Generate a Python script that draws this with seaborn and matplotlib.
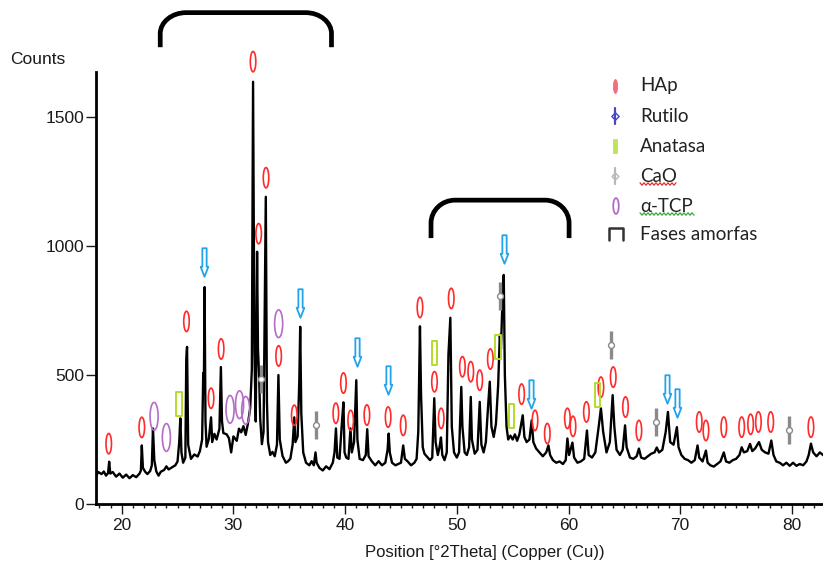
import numpy as np
import matplotlib
matplotlib.use("Agg")
import matplotlib.pyplot as plt
import seaborn as sns
from matplotlib.path import Path
from matplotlib.patches import PathPatch
from matplotlib.ticker import MultipleLocator

# ---------------- data: diffractogram trace (2theta, counts) ----------------
two_theta = [
    17.75, 17.9, 18.2, 18.4, 18.6, 18.78, 18.88, 18.98, 19.2, 19.5,
    19.8, 20.1, 20.4, 20.7, 21.0, 21.3, 21.6, 21.72, 21.8, 21.9,
    22.1, 22.3, 22.55, 22.7, 22.8, 22.92, 23.1, 23.3, 23.5, 23.8,
    24.0, 24.2, 24.5, 24.8, 25.0,
    25.15, 25.25, 25.35, 25.5, 25.7, 25.78, 25.85, 25.95, 26.2, 26.5,
    26.8, 27.0, 27.2, 27.3, 27.36, 27.42, 27.5, 27.6, 27.8, 28.0,
    28.1, 28.3, 28.5, 28.75, 28.88, 28.98, 29.1, 29.4, 29.6, 29.8,
    30.0, 30.3, 30.5, 30.7, 30.9, 31.1, 31.3, 31.5,
    31.65, 31.76, 31.88, 32.0, 32.12, 32.2, 32.3, 32.4, 32.55, 32.7,
    32.9, 33.0, 33.1, 33.3, 33.5, 33.7, 33.9, 34.03, 34.15, 34.4,
    34.7, 34.9, 35.1, 35.3, 35.45, 35.55, 35.75, 35.9, 35.98, 36.08,
    36.25, 36.5,
    36.8, 37.0, 37.2, 37.35, 37.45, 37.7, 38.0, 38.3, 38.6, 38.9,
    39.05, 39.18, 39.3, 39.5, 39.72, 39.85, 39.95, 40.1, 40.3, 40.48,
    40.6, 40.8, 41.0, 41.1, 41.3, 41.6, 41.85, 41.98, 42.1, 42.4,
    42.7, 43.0, 43.3, 43.6, 43.8, 43.9, 44.0, 44.2, 44.5, 44.8,
    45.0, 45.2, 45.35, 45.6, 45.9,
    46.2, 46.4, 46.55, 46.7, 46.8, 46.95, 47.1, 47.3, 47.6, 47.8,
    47.98, 48.1, 48.3, 48.45, 48.58, 48.7, 48.9, 49.1, 49.25, 49.42,
    49.55, 49.75, 50.0, 50.2, 50.4, 50.5, 50.7, 50.9, 51.1, 51.25,
    51.35, 51.6, 51.85, 52.05, 52.2, 52.4, 52.6, 52.8, 52.95, 53.1,
    53.3, 53.5, 53.7, 53.85, 53.95, 54.05, 54.2, 54.3, 54.45, 54.6,
    54.8, 55.0, 55.2, 55.4, 55.6, 55.9, 56.05, 56.25, 56.5, 56.7,
    56.85, 57.1, 57.4, 57.7,
    58.0, 58.2, 58.35, 58.6, 58.9, 59.2, 59.5, 59.75, 59.9, 60.05,
    60.35, 60.5, 60.8, 61.1, 61.4, 61.65, 61.8, 62.1, 62.4, 62.7,
    62.9, 63.1, 63.4, 63.7, 63.95, 64.1, 64.3, 64.6, 64.85, 65.06,
    65.2, 65.5, 65.8, 66.1, 66.3, 66.5, 66.8, 67.1, 67.4, 67.7,
    67.9, 68.1, 68.4, 68.7, 68.9, 69.1, 69.4, 69.7, 69.85, 70.1,
    70.4, 70.7, 71.0, 71.3, 71.55, 71.7, 72.0, 72.3, 72.45, 72.7,
    73.0, 73.3, 73.6, 73.9, 74.1, 74.4, 74.7, 75.0, 75.3, 75.5,
    75.7, 76.0, 76.25, 76.45, 76.7, 77.05, 77.3, 77.6, 77.9, 78.15,
    78.35, 78.6, 78.9, 79.2, 79.5, 79.8, 80.1, 80.4, 80.7, 81.0,
    81.3, 81.5, 81.7, 81.9, 82.2, 82.5, 82.78,
]
counts = [
    112, 124, 116, 126, 110, 120, 164, 118, 124, 106,
    118, 102, 114, 100, 112, 104, 118, 130, 227, 140,
    125, 116, 128, 150, 293, 170, 126, 110, 125, 132,
    146, 134, 142, 150, 165,
    240, 332, 200, 160, 180, 560, 609, 230, 175, 192,
    184, 205, 250, 508, 470, 841, 320, 222, 252, 336,
    240, 272, 250, 292, 531, 320, 275, 270, 255, 200,
    262, 245, 292, 278, 302, 268, 312, 370,
    520, 1637, 600, 320, 978, 600, 500, 330, 232, 280,
    1191, 400, 240, 190, 202, 185, 230, 500, 250, 186,
    160, 166, 176, 230, 336, 240, 262, 480, 687, 350,
    200, 160,
    150, 166, 150, 200, 160, 140, 130, 146, 135, 160,
    200, 293, 180, 175, 320, 394, 200, 180, 175, 293,
    200, 240, 480, 250, 175, 170, 190, 290, 185, 165,
    150, 166, 150, 160, 210, 273, 200, 160, 150, 156,
    160, 227, 175, 165, 150,
    160, 175, 280, 689, 420, 220, 195, 185, 170, 180,
    410, 240, 190, 220, 258, 190, 170, 200, 580, 722,
    300, 200, 180, 200, 454, 300, 200, 190, 220, 415,
    250, 195, 210, 396, 230, 200, 240, 380, 474, 300,
    260, 310, 460, 656, 600, 740, 888, 500, 300, 250,
    265, 250, 270, 245, 270, 344, 260, 240, 250, 324,
    240, 215, 200, 185,
    200, 227, 190, 170, 160, 165, 155, 170, 254, 190,
    238, 180, 160, 165, 175, 285, 190, 180, 200, 300,
    371, 280, 200, 240, 422, 300, 210, 190, 210, 305,
    220, 180, 175, 185, 215, 180, 175, 185, 195, 200,
    219, 200, 210, 280, 357, 240, 230, 298, 220, 190,
    175, 170, 160, 170, 227, 180, 165, 207, 160, 150,
    145, 155, 165, 200, 165, 160, 170, 175, 190, 220,
    200, 205, 233, 205, 215, 240, 210, 200, 195, 246,
    190, 165, 160, 150, 160, 148, 160, 148, 155, 150,
    165, 190, 234, 200, 185, 200, 190,
]

# ---------------- phase markers (2theta, marker height in counts) -----------
hap_x = [18.84, 21.8, 25.8, 28.0, 28.9, 31.76, 32.26, 32.92, 34.05, 35.45,
         39.17, 39.85, 40.5, 41.95, 43.85, 45.2, 46.7, 48.0, 48.6, 49.5,
         50.5, 51.25, 52.05, 53.0, 55.8, 57.0, 58.1, 59.9, 60.4, 61.6,
         62.9, 64.0, 65.1, 66.3, 71.7, 72.3, 73.9, 75.5, 76.3, 77.0,
         78.1, 81.7]
hap_y = [234, 297, 708, 410, 601, 1715, 1048, 1265, 574, 344,
         352, 469, 324, 345, 337, 305, 762, 474, 332, 797,
         532, 513, 480, 562, 426, 324, 273, 332, 301, 357,
         453, 492, 376, 285, 318, 285, 298, 298, 309, 318,
         318, 298]
rutilo_x = [27.4, 35.98, 41.05, 43.85, 54.2, 56.6, 68.8, 69.7]
rutilo_y = [938, 781, 590, 480, 988, 425, 445, 390]
anatasa_x = [25.1, 48.0, 53.7, 54.9, 62.6]
anatasa_y = [387, 586, 607, 342, 424]
cao_x = [32.5, 37.4, 53.84, 63.8, 67.8, 79.7]
cao_y = [484, 305, 807, 617, 318, 285]
tcp_x = [22.9, 24.0, 29.7, 30.55, 31.1, 34.05]
tcp_y = [340, 258, 367, 385, 363, 699]

# amorphous-phase brackets: 2theta range and (bottom, top) level in counts
amorph_lo = [23.45, 47.69]
amorph_hi = [38.78, 60.05]
amorph_bottom = [1771, 1031]
amorph_top = [1905, 1178]

legend_labels = ["HAp", "Rutilo", "Anatasa", "CaO", "\u03b1-TCP", "Fases amorfas"]

# ---------------- styling ----------------
sns.set_theme(style="ticks")
plt.rcParams["font.family"] = ["Liberation Sans", "DejaVu Sans"]

W, H = 823, 568
fig = plt.figure(figsize=(W / 100, H / 100), dpi=100)
fig.patch.set_facecolor("white")

ax_l, ax_b, ax_t = 96, 504, 71.7
ax = fig.add_axes([ax_l / W, 1 - ax_b / H, 1 - ax_l / W, (ax_b - ax_t) / H])
ax.set_facecolor("white")

sns.lineplot(x=two_theta, y=counts, color="black", linewidth=1.7,
             estimator=None, sort=False, ax=ax, zorder=3)

ax.set_xlim(17.70, 82.78)
ax.set_ylim(0, 1676)
ax.set_xticks([20, 30, 40, 50, 60, 70, 80])
ax.xaxis.set_minor_locator(MultipleLocator(1))
ax.set_yticks([0, 500, 1000, 1500])
for s in ["top", "right"]:
    ax.spines[s].set_visible(False)
for s in ["left", "bottom"]:
    ax.spines[s].set_linewidth(2.0)
    ax.spines[s].set_color("black")
ax.tick_params(axis="x", which="major", length=7, width=1, direction="out",
               pad=3, labelsize=12.5, colors="#1a1a1a")
ax.tick_params(axis="x", which="minor", length=3, width=1, direction="out",
               colors="#1a1a1a")
ax.tick_params(axis="y", which="major", length=7, width=1, direction="out",
               pad=1.5, labelsize=12.5, colors="#1a1a1a")
ax.grid(False)

ax.set_xlabel("Position [\u00b02Theta] (Copper (Cu))", fontsize=12, color="#1a1a1a")
ax.xaxis.set_label_coords((485 - ax_l) / (W - ax_l), -(545 - ax_b) / (ax_b - ax_t))
ax.xaxis.label.set_va("top")
ax.set_ylabel("Counts", fontsize=12.5, color="#1a1a1a", rotation=0,
              ha="left", va="center")
ax.yaxis.set_label_coords((10 - ax_l) / (W - ax_l), (ax_b - 60) / (ax_b - ax_t))


# ---------------- marker shapes ----------------
def ellipse_path(ratio):
    c = Path.unit_circle()
    v = c.vertices.copy()
    v[:, 0] *= ratio
    return Path(v, c.codes)


arrow_path = Path(
    [(-0.15, 1), (0.15, 1), (0.15, -0.3), (0.27, -0.3), (0, -1),
     (-0.27, -0.3), (-0.15, -0.3), (-0.15, 1)],
    [Path.MOVETO] + [Path.LINETO] * 6 + [Path.CLOSEPOLY])
rect_path = Path([(-0.24, -1), (0.24, -1), (0.24, 1), (-0.24, 1), (-0.24, -1)],
                 [Path.MOVETO, Path.LINETO, Path.LINETO, Path.LINETO, Path.CLOSEPOLY])

red = "#ff2b2b"
blue = "#22a4ea"
green = "#b4dc2c"
grey = "#8a8a8a"
purple = "#b46cc8"

common = dict(ax=ax, zorder=6, clip_on=False, legend=False)
sns.scatterplot(x=hap_x, y=hap_y, marker=ellipse_path(0.27), s=215,
                color=red, facecolor="none", edgecolor=red, linewidth=1.2, **common)
sns.scatterplot(x=tcp_x, y=tcp_y, marker=ellipse_path(0.29), s=400,
                color=purple, facecolor="none", edgecolor=purple, linewidth=1.2, **common)
sns.scatterplot(x=rutilo_x, y=rutilo_y, marker=arrow_path, s=420,
                color=blue, facecolor="white", edgecolor=blue, linewidth=1.3, **common)
sns.scatterplot(x=anatasa_x, y=anatasa_y, marker=rect_path, s=300,
                color=green, facecolor="none", edgecolor=green, linewidth=1.4, **common)
sns.scatterplot(x=cao_x, y=cao_y, marker="|", s=400, color=grey,
                linewidth=2.4, **common)
sns.scatterplot(x=cao_x, y=cao_y, marker="o", s=18, color=grey,
                facecolor="white", edgecolor=grey, linewidth=1.0, **common)

# ---------------- amorphous brackets ----------------
px_per_deg = (ax.transData.transform((30, 0))[0] - ax.transData.transform((20, 0))[0]) / 10
px_per_cnt = (ax.transData.transform((0, 1000))[1] - ax.transData.transform((0, 0))[1]) / 1000
radii_px = [(26, 21), (24, 23)]
k = 0.5523
for x0, x1, yb, yt, (rxp, ryp) in zip(amorph_lo, amorph_hi, amorph_bottom, amorph_top, radii_px):
    rx = rxp / px_per_deg
    ry = ryp / px_per_cnt
    verts = [(x0, yb), (x0, yt - ry),
             (x0, yt - ry + k * ry), (x0 + rx - k * rx, yt), (x0 + rx, yt),
             (x1 - rx, yt),
             (x1 - rx + k * rx, yt), (x1, yt - ry + k * ry), (x1, yt - ry),
             (x1, yb)]
    codes = [Path.MOVETO, Path.LINETO,
             Path.CURVE4, Path.CURVE4, Path.CURVE4,
             Path.LINETO,
             Path.CURVE4, Path.CURVE4, Path.CURVE4,
             Path.LINETO]
    ax.add_patch(PathPatch(Path(verts, codes), facecolor="none", edgecolor="black",
                           linewidth=3.4, capstyle="butt", clip_on=False, zorder=7))

# ---------------- legend (overlay in pixel coordinates) ----------------
ov = fig.add_axes([0, 0, 1, 1], zorder=10)
ov.set_xlim(0, W)
ov.set_ylim(H, 0)
ov.axis("off")
ov.patch.set_alpha(0)

row_y = [86, 116, 146, 176, 206, 234]
mx, tx = 615, 640
ov.scatter([mx], [row_y[0]], marker=ellipse_path(0.3), s=100, facecolor="#f2707c",
           edgecolor="#f2707c", linewidth=0.6)
ov.plot([mx, mx], [row_y[1] - 8, row_y[1] + 8], color="#4646c4", lw=1.6)
ov.scatter([mx], [row_y[1]], marker="D", s=14, facecolor="white", edgecolor="#4646c4", lw=1.0)
ov.scatter([mx], [row_y[2]], marker=rect_path, s=110, facecolor="#bfe35a",
           edgecolor="#bfe35a", linewidth=0.6)
ov.plot([mx, mx], [row_y[3] - 8, row_y[3] + 8], color="#b8b8b8", lw=1.6)
ov.scatter([mx], [row_y[3]], marker="D", s=12, facecolor="white", edgecolor="#b8b8b8", lw=1.0)
ov.scatter([mx + 1], [row_y[4]], marker=ellipse_path(0.35), s=130, facecolor="none",
           edgecolor="#b46cc8", linewidth=1.3)
bx0, bx1, byt, byb = 609, 623, row_y[5] - 6, row_y[5] + 6
ov.plot([bx0, bx0, bx1, bx1], [byb, byt, byt, byb], color="#333333", lw=1.8,
        solid_joinstyle="round")
for lab, yy in zip(legend_labels, row_y):
    ov.text(tx, yy, lab, fontsize=13.5, color="#222222", ha="left", va="center",
            family=["Lato", "DejaVu Sans"])

# squiggly spell-check underlines
for x0, x1, yy, col in [(640, 677, 184, "#e03030"), (640, 695, 214, "#3aa83a")]:
    xs = np.arange(x0, x1 + 0.1, 2.0)
    ys = yy + np.where(np.arange(len(xs)) % 2 == 0, -1.2, 1.2)
    ov.plot(xs, ys, color=col, lw=0.9)

fig.savefig("out.png", dpi=100, facecolor="white")
